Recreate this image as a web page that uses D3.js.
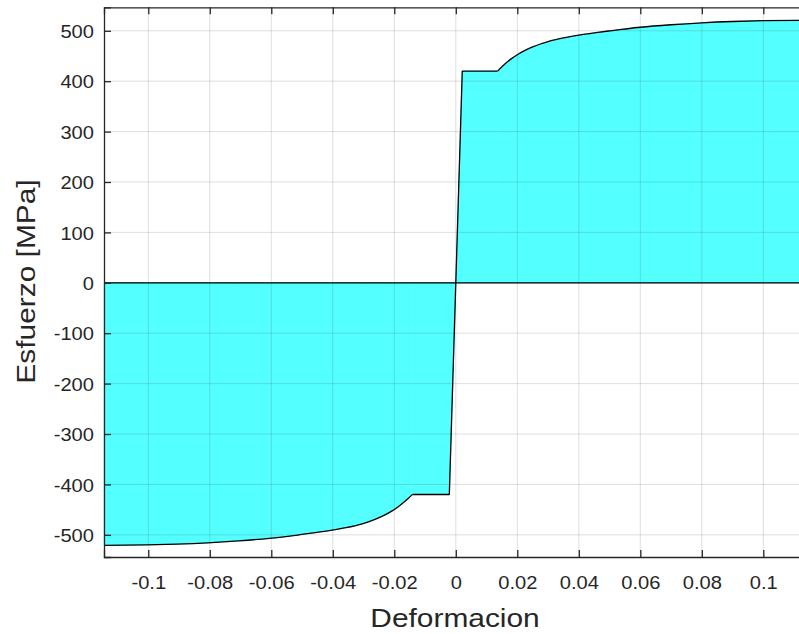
<!DOCTYPE html>
<html>
<head>
<meta charset="utf-8">
<script src="https://cdn.jsdelivr.net/npm/d3@7"></script>
<style>
  html, body { margin: 0; padding: 0; background: #fff; overflow: hidden; }
  text { font-family: "Liberation Sans", Arial, Helvetica, sans-serif; fill: #262626; }
</style>
</head>
<body>
<svg id="chart" width="799" height="634"></svg>
<script>
// ---- Data ----
// elastic branch + yield plateau (straight segments)
const strainElastic = [-0.0141, -0.0021, 0, 0.0021, 0.0136];
const stressElastic = [-420, -420, 0, 420, 420];
// strain-hardening branch, tension
const strainHardPos = [0.0136, 0.015, 0.0165, 0.018, 0.02, 0.0225, 0.025, 0.0275, 0.03, 0.035, 0.04, 0.045, 0.05, 0.06, 0.07, 0.08, 0.09, 0.10, 0.1144];
const stressHardPos = [420, 428.5, 437, 444.3, 452.5, 461, 468, 473.8, 478.6, 485.8, 491.3, 495.8, 499.8, 507, 512, 515.8, 518.4, 520, 521];
// strain-hardening branch, compression
const strainHardNeg = [-0.1144, -0.1007, -0.0907, -0.0807, -0.0707, -0.0607, -0.0507, -0.0457, -0.0407, -0.0357, -0.0307, -0.0282, -0.0257, -0.0232, -0.0207, -0.0187, -0.0172, -0.0156, -0.0141];
const stressHardNeg = [-521, -520, -518.4, -515.8, -512, -507, -499.8, -495.8, -491.3, -485.8, -478.6, -473.8, -468, -461, -452.5, -444.3, -437, -428.5, -420];
const xTicks = [-0.1, -0.08, -0.06, -0.04, -0.02, 0, 0.02, 0.04, 0.06, 0.08, 0.1];
const xTickLabels = ["-0.1", "-0.08", "-0.06", "-0.04", "-0.02", "0", "0.02", "0.04", "0.06", "0.08", "0.1"];
const yTicks = [-500, -400, -300, -200, -100, 0, 100, 200, 300, 400, 500];
const yTickLabels = ["-500", "-400", "-300", "-200", "-100", "0", "100", "200", "300", "400", "500"];
const xLabel = "Deformacion";
const yLabel = "Esfuerzo [MPa]";
const xDomain = [-0.1144, 0.1144];
const yDomain = [-544, 546.6];

// ---- Layout ----
const svg = d3.select("#chart");
const pLeft = 104, pRight = 807.6, pTop = 7.3, pBottom = 557;
const x = d3.scaleLinear().domain(xDomain).range([pLeft, pRight]);
const y = d3.scaleLinear().domain(yDomain).range([pBottom, pTop]);

const zip = (a, b) => a.map((e, i) => [e, b[i]]);
const elasticPts = zip(strainElastic, stressElastic);
const hardPosPts = zip(strainHardPos, stressHardPos);
const hardNegPts = zip(strainHardNeg, stressHardNeg);

const areaLin = d3.area().x(d => x(d[0])).y0(y(0)).y1(d => y(d[1]));
const areaSmooth = d3.area().curve(d3.curveMonotoneX).x(d => x(d[0])).y0(y(0)).y1(d => y(d[1]));
const lineLin = d3.line().x(d => x(d[0])).y(d => y(d[1]));
const lineSmooth = d3.line().curve(d3.curveMonotoneX).x(d => x(d[0])).y(d => y(d[1]));

const fillColor = "#54ffff";
// fill
const fills = svg.append("g").attr("fill", fillColor).attr("stroke", fillColor).attr("stroke-width", 0.6);
fills.append("path").datum(hardNegPts).attr("d", areaSmooth);
fills.append("path").datum(elasticPts.slice(0, 3)).attr("d", areaLin);
fills.append("path").datum(elasticPts.slice(2)).attr("d", areaLin);
fills.append("path").datum(hardPosPts).attr("d", areaSmooth);

// grid (on top, translucent)
const grid = svg.append("g").attr("stroke", "#262626").attr("stroke-opacity", 0.15).attr("stroke-width", 1);
grid.selectAll("line.gx").data(xTicks).enter().append("line").attr("class", "gx")
  .attr("x1", d => x(d)).attr("x2", d => x(d)).attr("y1", pTop).attr("y2", pBottom);
grid.selectAll("line.gy").data(yTicks).enter().append("line").attr("class", "gy")
  .attr("x1", pLeft).attr("x2", pRight).attr("y1", d => y(d)).attr("y2", d => y(d));

// outline
const outl = svg.append("g").attr("fill", "none").attr("stroke", "#000").attr("stroke-width", 1.3).attr("stroke-linejoin", "round");
outl.append("path").datum(hardNegPts).attr("d", lineSmooth);
outl.append("path").datum(elasticPts).attr("d", lineLin);
outl.append("path").datum(hardPosPts).attr("d", lineSmooth);
outl.append("path").datum([[xDomain[0], 0], [xDomain[1], 0]]).attr("d", lineLin);

// axes
const axisColor = "#262626";
const gx = svg.append("g").attr("transform", `translate(0,${pBottom})`)
  .call(d3.axisBottom(x).tickValues(xTicks).tickSize(-7).tickPadding(14).tickFormat((d, i) => xTickLabels[i]));
const gxt = svg.append("g").attr("transform", `translate(0,${pTop})`)
  .call(d3.axisTop(x).tickValues(xTicks).tickSize(-7).tickFormat(""));
const gy = svg.append("g").attr("transform", `translate(${pLeft},0)`)
  .call(d3.axisLeft(y).tickValues(yTicks).tickSize(-7).tickPadding(10).tickFormat((d, i) => yTickLabels[i]));

[gx, gxt, gy].forEach(g => {
  g.select(".domain").attr("stroke", axisColor).attr("stroke-width", 1.3);
  g.selectAll(".tick line").attr("stroke", axisColor).attr("stroke-width", 1.3);
  g.selectAll(".tick text").attr("fill", axisColor)
    .style("font-family", '"Liberation Sans", Arial, sans-serif').style("font-size", "19px");
});
gx.selectAll(".tick text").attr("dy", null).attr("y", 32).attr("transform", "scale(1.06,1)");
gy.selectAll(".tick text").attr("dy", "0.35em").attr("x", -10 / 1.06).attr("transform", "scale(1.06,1)");

// axis labels
svg.append("text").text(xLabel)
  .attr("text-anchor", "middle")
  .attr("transform", `translate(455,627) scale(1.15,1)`)
  .style("font-size", "26px");
svg.append("text").text(yLabel)
  .attr("text-anchor", "middle")
  .attr("transform", `translate(35,281.5) rotate(-90) scale(1.15,1)`)
  .style("font-size", "26px");
</script>
</body>
</html>
